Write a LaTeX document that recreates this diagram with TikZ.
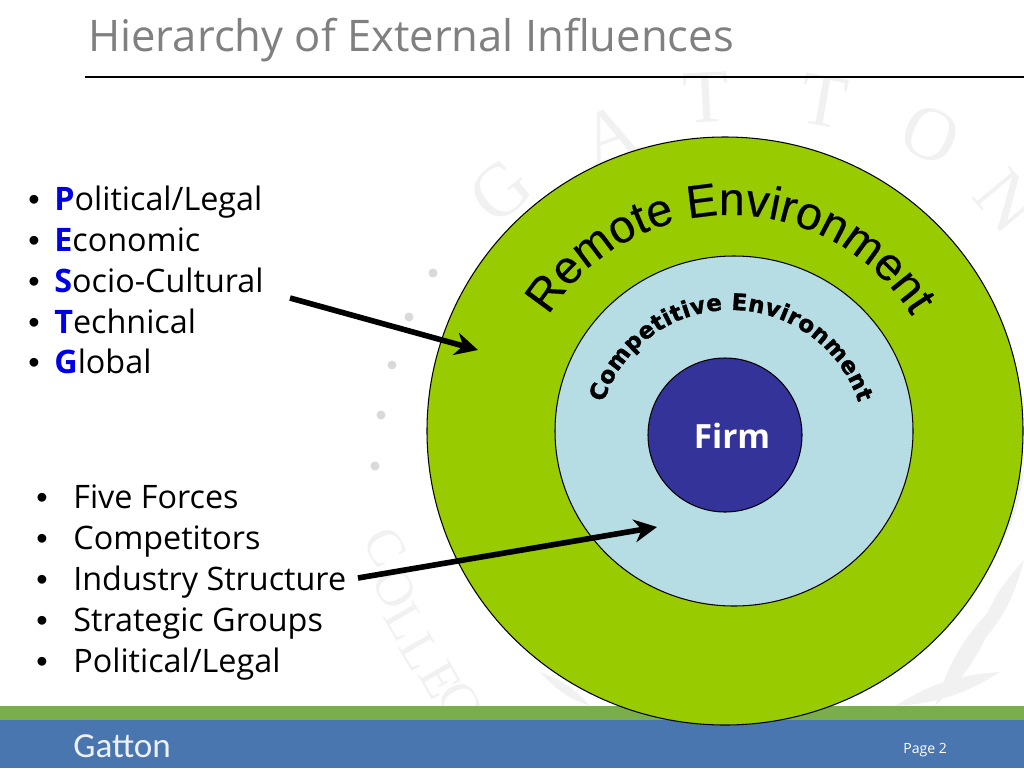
\documentclass[tikz,border=0pt]{standalone}
\usepackage{fontspec}
\setmainfont{Open Sans}
\newfontfamily\arialfont[FakeBold=0.4]{Liberation Sans}
\newfontfamily\dotfont{Liberation Sans}
\newfontfamily\heavyfont[FakeBold=1.6]{DejaVu Sans Bold}
\newfontfamily\seriffont{Liberation Serif}
\newfontfamily\logofont{Carlito}
\usepackage{xcolor}
\usetikzlibrary{arrows.meta,decorations.text}
\definecolor{cvert}{RGB}{153,204,0}
\definecolor{cciel}{RGB}{183,221,228}
\definecolor{cnuit}{RGB}{51,51,153}
\definecolor{cbande}{RGB}{122,174,76}
\definecolor{cpied}{RGB}{74,118,176}
\definecolor{ctitre}{RGB}{128,128,128}
\definecolor{cinit}{RGB}{0,0,230}
\definecolor{cfilig}{RGB}{240,241,240}
\tikzset{
  listline/.style={anchor=base west,inner sep=0pt,font=\fontsize{18.4pt}{22pt}\selectfont},
  listdot/.style={anchor=base west,inner sep=0pt,font=\dotfont\fontsize{18.4pt}{22pt}\selectfont},
  ring/.style={draw=black,line width=0.6pt},
  bigarrow/.style={-{Stealth[length=13pt,width=13pt]},line width=3.2pt},
  filig/.style={cfilig,font=\seriffont\fontsize{43pt}{43pt}\selectfont},
  filigsmall/.style={cfilig,font=\seriffont\fontsize{30pt}{30pt}\selectfont},
}
\newcommand{\ini}[1]{{\color{cinit}\bfseries #1}}
\begin{document}
\begin{tikzpicture}[x=0.02cm,y=-0.02cm]
\useasboundingbox (0,0) rectangle (1024,768);
% watermark
\foreach \px/\py/\ang/\ltr in {501/191/40/G,610/135/20/A,706/98/3/T,824/101/-10/T,931/135/-25/O,1007/201/-50/N}
  {\node[filig,rotate=\ang] at (\px,\py) {\ltr};}
\foreach \px/\py/\ltr in {385/547/C,395/588/O,405/622/L,420/652/L,440/680/E,460/702/G}
  {\node[filigsmall,rotate=-60] at (\px,\py) {\ltr};}
\foreach \px/\py in {433/273,409/317,392/365,381/415,375/466}
  {\fill[cfilig!90!black] (\px,\py) circle (4.5);}
\foreach \xa/\ya/\xb/\yb in {895/706/1000/672,935/706/1000/600,975/650/1024/560,985/570/1024/470,540/672/590/706}
  {\fill[cfilig] (\xa,\ya) to[bend left=14] (\xb,\yb) to[bend left=14] (\xa,\ya);}
% footer
\fill[cbande] (0,706) rectangle (1024,720);
\fill[cpied] (0,720) rectangle (1024,768);
% title
\node[anchor=base west,inner sep=0pt,ctitre,font=\fontsize{24.8pt}{30pt}\selectfont] (titre) at (88,51) {Hierarchy of External Influences};
\coordinate (regleA) at (85,77); \coordinate (regleB) at (1024,77);
\draw[line width=0.6pt] (regleA) -- (regleB);
% circles
\draw[ring,fill=cvert] (725,431) ellipse (298 and 294);
\draw[ring,fill=cciel] (734,431) ellipse (179 and 175);
\node[ring,circle,fill=cnuit,minimum size=154*0.02cm,inner sep=0pt] (firm) at (725,435) {};
\node[white,font=\fontsize{19pt}{22pt}\selectfont\bfseries] (firmtxt) at (732,436) {Firm};
% curved texts
\path[decorate,decoration={text along path,text align={fit to path},
  text={|\arialfont\fontsize{26.3pt}{30pt}\selectfont|Remote Environment}}]
  (730,429) ++(212:214) arc[start angle=212,end angle=328,radius=214];
\path[decorate,decoration={text along path,text align={fit to path},
  text={|\heavyfont\fontsize{13pt}{15pt}\selectfont|Competitive Environment}}]
  (731,444) ++(198:134) arc[start angle=198,end angle=342,radius=134];
% lists
\foreach \ty/\ltr/\rst in {210/P/olitical\slash Legal,251/E/conomic,292/S/ocio-Cultural,333/T/echnical,373/G/lobal}
  {\node[listdot] at (28,\ty) {\textbullet};
   \node[listline] at (54,\ty) {\ini{\ltr}\rst};}
\foreach \ty/\txt in {508/Five Forces,549/Competitors,590/Industry Structure,631/Strategic Groups,672/Political\slash Legal}
  {\node[listdot] at (36,\ty) {\textbullet};
   \node[listline] at (73,\ty) {\txt};}
% arrows
\coordinate (remA) at (290,298); \coordinate (remB) at (478,350);
\coordinate (comA) at (358,578); \coordinate (comB) at (657,527);
\draw[bigarrow] (remA) -- (remB);
\draw[bigarrow] (comA) -- (comB);
% footer text
\node[anchor=base west,inner sep=0pt,white!90!cpied,font=\logofont\fontsize{20pt}{24pt}\selectfont] (gatton) at (73,757) {Gatton};
\node[anchor=base west,inner sep=0pt,white,font=\fontsize{8pt}{10pt}\selectfont] (page) at (903,753) {Page 2};
\end{tikzpicture}
\end{document}
